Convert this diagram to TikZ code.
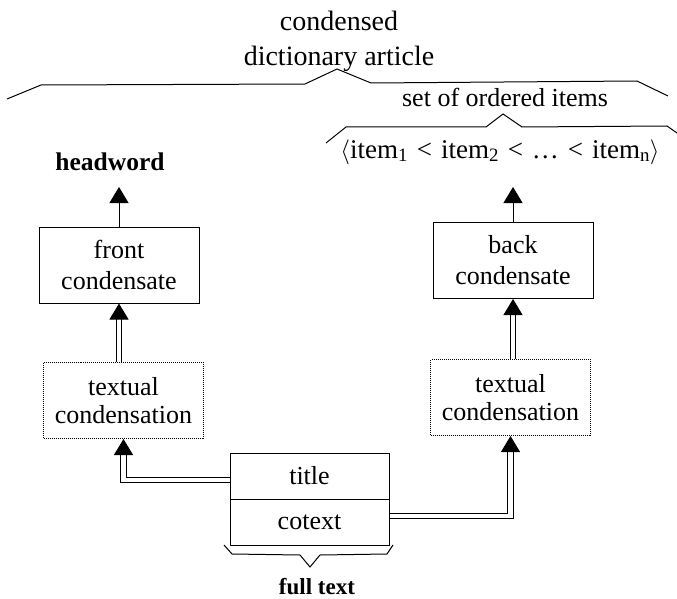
\documentclass[tikz,border=0pt]{standalone}
\usepackage{fontspec}
\setmainfont{Liberation Serif}
\usetikzlibrary{arrows.meta}

\newcommand{\fsz}[2]{\fontsize{#1}{#2}\selectfont}
\newcommand{\lsep}{\hspace{0.33em}<\hspace{0.33em}}

\begin{document}
\begin{tikzpicture}[x=1pt,y=-1pt,line width=1pt,
  box/.style={draw,minimum width=160pt,minimum height=76pt,align=center,font=\fsz{26}{31}},
  dotbox/.style={box,densely dotted,font=\fsz{26}{28}},
  cell/.style={draw,minimum width=159pt,minimum height=46pt,font=\fsz{26}{31}},
  arr/.style={-{Triangle[width=19pt,length=16pt]}},
  dblarr/.style={double,double distance=4.5pt,line width=0.9pt,-{Triangle[width=19pt,length=16pt]}}]
\useasboundingbox (0,0) rectangle (677,599);

% labels on top
\node[align=center,font=\fsz{28}{35}] (article) at (339,41) {condensed\\dictionary article};
\node[font=\fsz{26}{31},anchor=base] (set) at (505,107) {set of ordered items};
\node[font=\fsz{27}{31},anchor=base] (items) at (500,158)
  {$\langle$item\textsubscript{1}\lsep item\textsubscript{2}\lsep\dots\lsep item\textsubscript{n}$\rangle$};
\node[font=\bfseries\fsz{25.5}{30},anchor=base] (hw) at (110,170) {headword};
\coordinate (hwend) at (116,187);
\coordinate (itemsend) at (509,187);

% boxes
\node[box] (front) at (119,265) {front\\condensate};
\node[box] (back) at (513,260.5) {back\\condensate};
\node[dotbox] (ltc) at (123.5,400.5) {textual\\condensation};
\node[dotbox] (rtc) at (510.5,397.5) {textual\\condensation};
\node[cell] (title) at (309.5,476) {title};
\node[cell] (cotext) at (309.5,522) {cotext};
\node[font=\bfseries\fsz{23}{28},anchor=base] (full) at (317,594) {full text};

% arrows
\draw[arr] (front.north) -- (front.north |- hwend);
\draw[arr] (back.north) -- (back.north |- itemsend);
\draw[dblarr] (front.south |- ltc.north) -- (front.south);
\draw[dblarr] (back.south |- rtc.north) -- (back.south);
\draw[dblarr] ([yshift=-4pt]title.west) -| (ltc.south);
\draw[dblarr] ([yshift=6pt]cotext.east) -| (rtc.south);

% braces
\draw (7,99) -- (41,85) -- (305,84) -- (337,69) -- (371,83) -- (637,81) -- (668,96);
\draw (326,143) -- (346,127) -- (486,127) -- (503,114) -- (522,127) -- (667,126) -- (677,133);
\draw (224,545) -- (232,554) -- (300,555) -- (310,567) -- (320,555) -- (387,554) -- (393,545);
\end{tikzpicture}
\end{document}
